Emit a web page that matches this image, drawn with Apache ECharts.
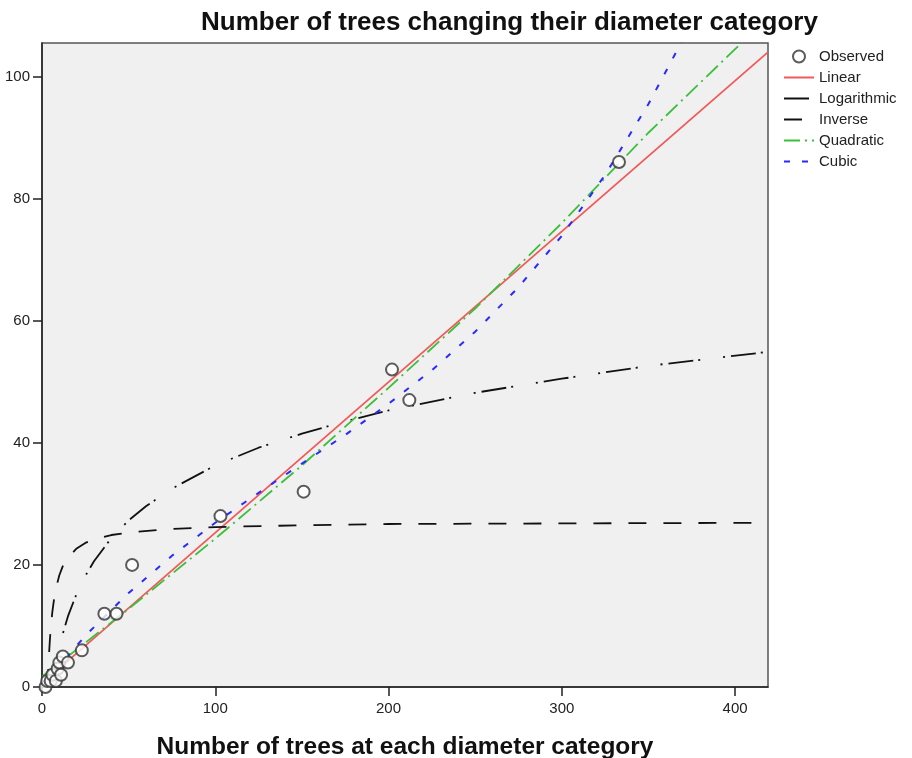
<!DOCTYPE html>
<html>
<head>
<meta charset="utf-8">
<script src="https://cdn.jsdelivr.net/npm/echarts@6/dist/echarts.min.js"></script>
<style>
html,body{margin:0;padding:0;background:#fff;}
#c{width:912px;height:758px;}
</style>
</head>
<body>
<div id="c"></div>
<script>
// Observed points
const obsX = [2, 3, 5, 6, 8, 9, 10, 11, 12, 15, 23, 36, 43, 52, 103, 151, 202, 212, 333];
const obsY = [0, 1, 1, 2, 1, 3, 4, 2, 5, 4, 6, 12, 12, 20, 28, 32, 52, 47, 86];
// Fitted curves
const linX = [0, 419];
const linY = [0.6, 104.0];
const logX = [6.1, 7, 8, 10, 12, 15, 20, 25, 30, 40, 50, 60, 75, 100, 125, 150, 175, 200, 250, 300, 350, 419];
const logY = [0, 1.7, 3.4, 6.3, 8.7, 11.6, 15.3, 18.2, 20.6, 24.4, 27.3, 29.6, 32.5, 36.3, 39.2, 41.5, 43.5, 45.3, 48.2, 50.5, 52.6, 54.9];
const invX = [3.25, 3.5, 4, 4.5, 5, 6, 7, 8, 10, 12, 15, 20, 25, 30, 40, 50, 75, 100, 150, 200, 300, 419];
const invY = [0, 2.0, 5.1, 7.5, 9.5, 12.4, 14.5, 16.1, 18.3, 19.8, 21.2, 22.7, 23.6, 24.2, 24.9, 25.3, 25.9, 26.2, 26.5, 26.7, 26.8, 26.9];
const quaX = [0, 50, 100, 150, 200, 250, 300, 350, 404];
const quaY = [1.7, 12.8, 24.3, 36.3, 49.0, 62.0, 76.0, 90.8, 105.6];
const cubX = [0, 25, 50, 75, 100, 125, 150, 175, 200, 225, 250, 275, 300, 325, 350, 369];
const cubY = [0.3, 8.4, 15.4, 21.5, 26.9, 31.8, 36.6, 41.3, 46.4, 51.9, 58.2, 65.5, 73.9, 83.9, 95.5, 105.6];
const xTicks = [0, 100, 200, 300, 400];
const yTicks = [0, 20, 40, 60, 80, 100];
const legendNames = ['Observed', 'Linear', 'Logarithmic', 'Inverse', 'Quadratic', 'Cubic'];

const zip = (xs, ys) => xs.map((x, i) => [x, ys[i]]);

const chart = echarts.init(document.getElementById('c'), null, {renderer: 'canvas'});
const labelFont = {fontFamily: 'Arial, Liberation Sans, sans-serif', fontSize: 15, color: '#222'};
const lineSeries = (name, xs, ys, color, type, width) => ({
  name, type: 'line', data: zip(xs, ys), showSymbol: false, symbol: 'none',
  smooth: false, clip: true, animation: false,
  lineStyle: {color, width: width || 1.6, type}, itemStyle: {color}
});

chart.setOption({
  animation: false,
  backgroundColor: '#fff',
  title: {
    text: 'Number of trees changing their diameter category',
    left: 196, top: 5,
    textStyle: {fontFamily: 'Arial, Liberation Sans, sans-serif', fontWeight: 'bold', fontSize: 26, color: '#111'}
  },
  legend: {
    orient: 'vertical', left: 778, top: 44,
    itemWidth: 30, itemHeight: 12, itemGap: 6,
    textStyle: {fontFamily: 'Arial, Liberation Sans, sans-serif', fontSize: 15, color: '#222'},
    data: legendNames.map(n => n === 'Observed'
      ? {name: n, icon: 'emptyCircle', itemStyle: {color: '#333', borderColor: '#333', borderWidth: 1.5}}
      : {name: n, itemStyle: {opacity: 0}})
  },
  grid: {left: 42, top: 43, right: 144, bottom: 71, show: true, backgroundColor: '#f0f0f0', borderColor: '#555', borderWidth: 1.5, outerBoundsMode: 'none', containLabel: false},
  xAxis: {
    type: 'value', min: 0, max: 419,
    name: 'Number of trees at each diameter category',
    nameLocation: 'middle', nameGap: 48,
    nameTextStyle: {fontFamily: '"Liberation Sans Narrow", "Arial Narrow", Arial, sans-serif', fontWeight: 'bold', fontSize: 24.5, color: '#111'},
    axisLine: {show: true, onZero: false, lineStyle: {color: '#222', width: 1.5}},
    axisTick: {show: true, length: 9, customValues: xTicks, lineStyle: {color: '#222', width: 1.5}},
    axisLabel: Object.assign({customValues: xTicks, margin: 14}, labelFont),
    splitLine: {show: false}
  },
  yAxis: {
    type: 'value', min: 0, max: 105.5,
    axisLine: {show: true, onZero: false, lineStyle: {color: '#222', width: 1.5}},
    axisTick: {show: true, length: 9, customValues: yTicks, lineStyle: {color: '#222', width: 1.5}},
    axisLabel: Object.assign({customValues: yTicks, margin: 12}, labelFont),
    splitLine: {show: false}
  },
  series: [
    {name: 'Observed', type: 'scatter', data: zip(obsX, obsY), symbol: 'emptyCircle', symbolSize: 12,
     itemStyle: {color: '#333', borderColor: '#333', borderWidth: 1.5}, z: 5, animation: false},
    lineSeries('Linear', linX, linY, '#f05a5a', 'solid', 1.8),
    lineSeries('Logarithmic', logX, logY, '#111', [25, 5, 2, 23, 2, 6], 1.8),
    lineSeries('Inverse', invX, invY, '#111', [18, 17], 1.8),
    lineSeries('Quadratic', quaX, quaY, '#3cbf3c', [16, 5, 2, 5], 1.8),
    lineSeries('Cubic', cubX, cubY, '#2a2aff', [6, 12], 2)
  ]
});
</script>
</body>
</html>
